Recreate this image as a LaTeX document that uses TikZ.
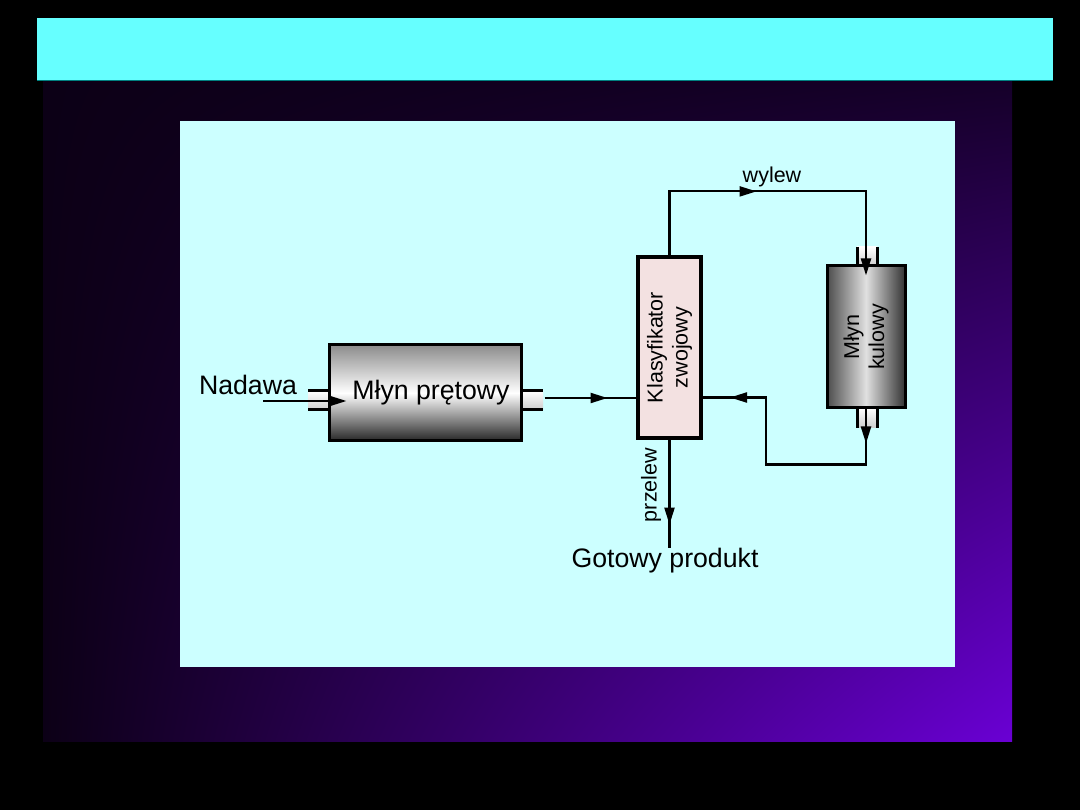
\documentclass[tikz,border=0pt]{standalone}
\usepackage{fontspec}
\setmainfont{Liberation Sans}
\usepackage{tikz}
\usetikzlibrary{positioning,arrows.meta,calc,decorations.markings,shadings}
\definecolor{titlecyan}{HTML}{66FFFF}
\definecolor{paneltint}{HTML}{CCFFFF}
\definecolor{nightviolet}{HTML}{0C0016}
\definecolor{deepviolet}{HTML}{6A00D4}
\definecolor{klasfill}{HTML}{F3E1E1}

\begin{document}
\begin{tikzpicture}[x=1pt, y=-1pt,
  rodmill/.style={draw, line width=3pt, minimum width=192pt, minimum height=96pt,
                  top color=black!45, bottom color=black!85, middle color=white,
                  inner sep=0pt, font=\fontsize{26.7}{30}\selectfont},
  ballmill/.style={draw, line width=3pt, minimum width=78pt, minimum height=142pt,
                   left color=black!70, right color=black!80, middle color=black!12, inner sep=0pt},
  klasbox/.style={draw, line width=3.2pt, fill=klasfill, minimum width=63pt,
                  minimum height=181pt, inner sep=0pt},
  pipe/.style={line width=2.2pt},
  stubfill/.style={top color=white, bottom color=black!20},
  stubline/.style={line width=3pt},
  flow/.style={-{Triangle[length=17pt,width=10pt]}},
  arrowat/.style={postaction={decorate, decoration={markings,
      mark=at position #1 with {\arrow{Triangle[length=17pt,width=10pt]}}}}},
  big/.style={font=\fontsize{26.7}{30}\selectfont, inner sep=0pt},
  small/.style={font=\fontsize{21.5}{25}\selectfont, align=center, inner sep=0pt}
]
\useasboundingbox (0,0) rectangle (1080,810);
% slide background
\fill[black] (0,0) rectangle (1080,810);
\shade[upper left=nightviolet, upper right=nightviolet!90!deepviolet,
       lower left=nightviolet, lower right=deepviolet] (43,81) rectangle (1012,741);
\fill[titlecyan] (37,18) rectangle (1053,81);
\draw[teal, line width=1pt] (37,81) -- (1053,81);
\fill[paneltint] (180,121) rectangle (955,667);

% units
\node[klasbox] (klas) at (669.5,347.5) {};
\node[small, rotate=90] at (klas) {Klasyfikator\\zwojowy};
\node[big] (nadawa) at (248,385) {Nadawa};
\node[big] (produkt) at (665,561) {Gotowy produkt};
\node[small] (wylew) at (772,177) {wylew};
\node[small, rotate=90] (przelew) at (651,485) {przelew};

% rod mill with its stubs
\coordinate (pw) at (425,393);
\shade[stubfill] ($(pw)+(-117,-2)$) rectangle ($(pw)+(-96,17)$);
\shade[stubfill] ($(pw)+(96,-2)$) rectangle ($(pw)+(118,17)$);
\draw[stubline] ($(pw)+(-117,-2)$) -- ++(21,0) ($(pw)+(-117,17)$) -- ++(21,0);
\draw[stubline] ($(pw)+(96,-2)$) -- ++(22,0) ($(pw)+(96,17)$) -- ++(22,0);
\node[rodmill] (pretowy) at (pw) {\hspace{12pt}Młyn prętowy};

% ball mill with its stubs
\coordinate (kw) at (866,337);
\shade[stubfill] ($(kw)+(-9,-90)$) rectangle ($(kw)+(11,-71)$);
\shade[stubfill] ($(kw)+(-9,71)$) rectangle ($(kw)+(11,91)$);
\draw[stubline] ($(kw)+(-9,-90)$) -- ++(0,19) ($(kw)+(11,-90)$) -- ++(0,19);
\draw[stubline] ($(kw)+(-9,71)$) -- ++(0,20) ($(kw)+(11,71)$) -- ++(0,20);
\node[ballmill] (kulowy) at (kw) {};

\coordinate (wlot) at (263,401);
\coordinate (wejscie) at ($(pretowy.west)+(19,8)$);
\coordinate (wylot) at ($(pretowy.east)+(22,5)$);

% connections
\draw[pipe, flow] (wlot) -- (wejscie);
\draw[pipe, arrowat=63pt] (wylot) -- (wylot -| klas.west);
\draw[pipe, flow, arrowat=151pt] (klas.north) -- ++(0,-64) -| ($(kulowy.north)+(0,11)$);
\draw[pipe, arrowat=34pt, arrowat=258pt] (kulowy.south) |- ++(-100,55) |- ($(klas.east)+(0,50)$);
\draw[pipe, arrowat=85pt] (klas.south) -- (klas.south |- produkt.north);
\node[small, rotate=90] at (kulowy) {Młyn\\kulowy};
\end{tikzpicture}
\end{document}
